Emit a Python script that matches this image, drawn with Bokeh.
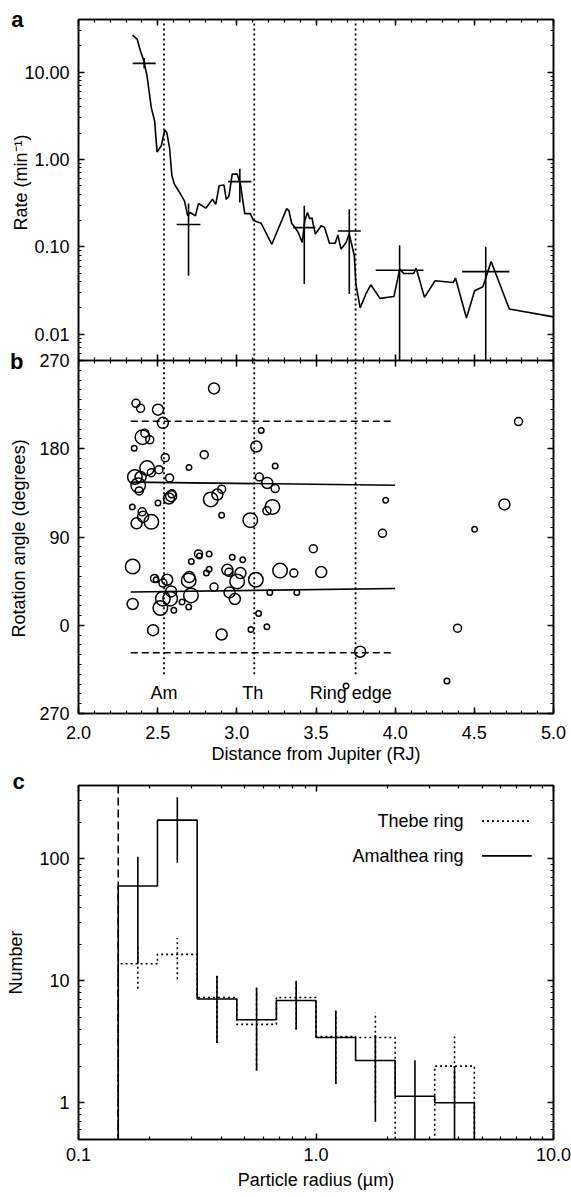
from bokeh.plotting import figure
from bokeh.layouts import column
from bokeh.models import (LinearAxis, LogAxis, FixedTicker, Span, Label, Range1d, LogScale, Title,
                          PrintfTickFormatter, CustomJSTickFormatter, ColumnDataSource)
from bokeh.embed import file_html
from bokeh.resources import INLINE
from bokeh.core.properties import value
import numpy as np

FONT = "Liberation Sans"

# ---------------- panel a data ----------------
a_dist = [2.342, 2.371, 2.388, 2.413, 2.433, 2.46, 2.481, 2.496, 2.523, 2.544, 2.558, 2.575, 2.59,
          2.606, 2.638, 2.669, 2.69, 2.704, 2.72, 2.738, 2.758, 2.804, 2.846, 2.867, 2.888, 2.919,
          2.933, 2.95, 2.971, 3.002, 3.023, 3.05, 3.085, 3.106, 3.127, 3.154, 3.221, 3.315, 3.329,
          3.346, 3.367, 3.388, 3.413, 3.429, 3.446, 3.46, 3.475, 3.48, 3.496, 3.533, 3.554, 3.585,
          3.621, 3.638, 3.658, 3.69, 3.71, 3.742, 3.752, 3.779, 3.815, 3.846, 3.904, 3.992, 4.029,
          4.054, 4.117, 4.133, 4.185, 4.252, 4.367, 4.381, 4.45, 4.502, 4.554, 4.606, 4.721, 5.0]
a_rate = [26.5, 23.7, 18.2, 13.4, 9.0, 3.9, 2.75, 1.22, 1.43, 2.17, 2.02, 1.36, 0.65,
          0.52, 0.42, 0.336, 0.226, 0.247, 0.238, 0.226, 0.313, 0.277, 0.35, 0.306, 0.50, 0.51,
          0.35, 0.38, 0.68, 0.68, 0.52, 0.24, 0.24, 0.20, 0.194, 0.186, 0.107, 0.274, 0.26,
          0.186, 0.166, 0.146, 0.112, 0.198, 0.247, 0.21, 0.214, 0.19, 0.14, 0.174, 0.167, 0.110,
          0.110, 0.137, 0.094, 0.112, 0.14, 0.079, 0.0375, 0.02, 0.0289, 0.0368, 0.0257, 0.027, 0.0556,
          0.0496, 0.0496, 0.057, 0.0264, 0.0409, 0.039, 0.0439, 0.0153, 0.0314, 0.0349, 0.068, 0.0194, 0.0158]

a_bin_lo = [2.342, 2.62, 2.946, 3.356, 3.6375, 3.877, 4.423]
a_bin_hi = [2.4875, 2.77, 3.092, 3.496, 3.783, 4.179, 4.721]
a_bin_rate = [12.6, 0.18, 0.557, 0.166, 0.152, 0.054, 0.052]
a_err_lo = [11.0, 0.0467, 0.321, 0.0375, 0.0289, 0.0, 0.0]
a_err_hi = [14.5, 0.313, 0.785, 0.296, 0.27, 0.104, 0.10]

moon_names = ["Am", "Th", "Ring edge"]
moon_dist = [2.54, 3.11, 3.75]
moon_label_dist = [2.54, 3.10, 3.72]

# ---------------- panel b data ----------------
b_dist = [2.856, 2.363, 2.392, 2.502, 2.533, 2.404, 2.419, 2.45, 2.352, 2.548, 2.794, 2.698, 2.433,
          2.508, 2.46, 2.356, 2.392, 2.377, 2.383, 2.575, 2.585, 2.571, 2.59, 2.502, 2.835, 2.877,
          2.904, 2.904, 2.34, 2.402, 2.408, 2.46, 2.367, 3.085, 3.123, 3.154, 3.142, 3.192, 3.242,
          3.242, 3.225, 3.19, 3.94, 3.92, 4.779, 4.69, 4.502, 3.483,
          2.342, 2.342, 2.471, 2.48, 2.49, 2.533, 2.56, 2.533, 2.517, 2.585, 2.579, 2.602, 2.654,
          2.696, 2.71, 2.696, 2.7, 2.7125, 2.758, 2.764, 2.825, 2.808, 2.825, 2.856, 2.94, 2.95,
          2.971, 3.0375, 3.023, 3.002, 2.954, 2.9875, 2.904, 3.12, 3.273, 3.36, 3.533, 3.208, 3.379,
          3.1375, 3.089, 3.19, 3.779, 4.394, 4.327, 3.69]
b_angle = [241.5, 226.3, 221.2, 219.9, 206.4, 191.8, 195.8, 189.1, 180.6, 170.9, 173.9, 161.0, 160.3,
           158.7, 155.6, 151.2, 151.2, 142.8, 137.0, 150.2, 131.6, 129.3, 134.0, 124.8, 128.3, 133.3,
           138.7, 112.3, 120.7, 115.7, 110.6, 105.5, 103.9, 107.2, 182.3, 198.5, 151.2, 145.1, 139.4,
           162.3, 120.7, 116.7, 127.5, 93.7, 207.7, 123.2, 97.8, 78.1,
           59.9, 21.7, -5.0, 47.7, 46.5, 43.0, 46.4, 27.1, 17.6, 34.5, 27.1, 15.2, 23.7,
           18.6, 30.4, 45.7, 49.1, 65.0, 72.7, 70.5, 72.7, 53.2, 57.2, 38.9, 56.5, 54.0,
           69.4, 66.7, 53.2, 44.7, 33.5, 26.8, -9.4, 46.4, 55.8, 53.2, 54.2, 33.5, 33.5,
           11.9, -4.4, -1.6, -27.0, -3.0, -56.8, -61.9]
b_mass_class = [3, 2, 2, 3, 3, 4, 2, 2, 1, 2, 2, 1, 4, 2, 2, 4, 3, 4, 2, 2, 3, 3, 2, 1, 4, 3, 2, 1, 1, 2,
                3, 4, 3, 4, 3, 1, 2, 3, 2, 1, 4, 2, 1, 2, 2, 3, 1, 2,
                4, 3, 3, 2, 1, 2, 3, 4, 4, 3, 4, 1, 1, 1, 4, 4, 3, 1, 2, 1, 1, 1, 1, 2, 3, 2, 1, 1,
                3, 4, 3, 3, 3, 4, 4, 2, 3, 1, 1, 1, 1, 1, 3, 2, 1, 1]

b_band_angles = [208, -28]
b_fit_dist = [2.33, 4.0]
b_fit_upper = [146.0, 142.8]
b_fit_lower = [33.9, 37.5]

# ---------------- panel c data ----------------
c_edges = [0.147, 0.215, 0.316, 0.464, 0.681, 1.0, 1.468, 2.154, 3.162, 4.642]
c_amalthea = [60, 208, 7.1, 4.8, 6.9, 3.43, 2.22, 1.13, 1.0]
c_amalthea_lo = [14, 93, 3.1, 1.84, 4.0, 1.43, 0.7, 0, 0]
c_amalthea_hi = [104, 321, 11, 8.8, 10, 5.7, 3.6, 2.23, 2.0]
c_thebe = [13.8, 16.5, 7.3, 4.4, 7.3, 3.5, 3.43, 0, 2.0]
c_thebe_lo = [8.6, 10.3, 3.1, 1.84, 4.0, 1.43, 1.0, None, 0.9]
c_thebe_hi = [20, 22.5, 11, 8.8, 10, 5.7, 5.5, None, 3.5]


def style_axis(ax, major, minor, fmt=None, labels=True, standoff=9):
    ax.ticker = FixedTicker(ticks=major, minor_ticks=minor)
    ax.major_tick_in = 6
    ax.major_tick_out = 0
    ax.minor_tick_in = 3
    ax.minor_tick_out = 0
    ax.axis_line_color = "black"
    ax.axis_line_width = 1.6
    ax.major_tick_line_color = "black"
    ax.major_tick_line_width = 1.5
    ax.minor_tick_line_color = "black"
    ax.minor_tick_line_width = 1.2
    ax.major_label_text_font = FONT
    ax.major_label_text_color = "black"
    ax.axis_label_text_font = FONT
    ax.axis_label_text_font_style = "normal"
    ax.axis_label_text_color = "black"
    ax.axis_label_text_font_size = "18px"
    if labels:
        ax.major_label_text_font_size = "18px"
        ax.major_label_standoff = standoff
        if fmt is not None:
            ax.formatter = fmt
    else:
        ax.formatter = CustomJSTickFormatter(code="return '';")
        ax.major_label_text_font_size = "1px"
        ax.major_label_standoff = 0


def log_minor(lo, hi):
    out = []
    for e in range(-4, 4):
        for k in range(2, 10):
            v = k * 10.0 ** e
            if lo <= v <= hi:
                out.append(v)
    return out


def side_title(text, offset):
    # rotated y-axis title placed in a narrow slot on the left side
    return Title(text=text, align="left", offset=offset, vertical_align="middle", standoff=-20,
                 text_font=FONT, text_font_size="18px", text_font_style="normal", text_color="black")


x_major = [2.0, 2.5, 3.0, 3.5, 4.0, 4.5, 5.0]
x_minor = [round(2.0 + 0.1 * i, 2) for i in range(31)]
DOT = "2 3"

# ================= panels a + b share one frame =================
A_YMIN, A_YMAX = 0.005, 40.0
B_YMIN, B_YMAX = -90, 270
A_FRAME_H, B_FRAME_H = 341, 353
FRAME_BOTTOM = 713
top_primary = B_YMAX + (B_YMAX - B_YMIN) * A_FRAME_H / B_FRAME_H
rate_floor = A_YMIN / 10 ** (np.log10(A_YMAX / A_YMIN) * B_FRAME_H / A_FRAME_H)
lf = float(np.log10(rate_floor))
ld = float(np.log10(A_YMAX)) - lf
span = top_primary - B_YMIN


def rate_to_primary(r):
    return B_YMIN + (np.log10(r) - lf) / ld * span


pab = figure(width=571, height=770, x_range=Range1d(2, 5), y_range=Range1d(B_YMIN, top_primary),
             extra_y_ranges={"rate": Range1d(rate_floor, A_YMAX)},
             extra_y_scales={"rate": LogScale()},
             output_backend="svg", toolbar_location=None,
             min_border_left=78, min_border_right=13, min_border_top=19, min_border_bottom=57)
pab.grid.visible = False
pab.outline_line_color = "black"
pab.outline_line_width = 1.5
pab.background_fill_color = "white"
pab.border_fill_color = "white"

b_major = [-90, 0, 90, 180, 270]
b_minor = list(range(-90, 271, 10))
a_major = [0.01, 0.1, 1.0, 10.0]
a_minor = log_minor(A_YMIN, A_YMAX)
y_ticks = b_major + [float(rate_to_primary(t)) for t in a_major]
y_minor = b_minor + [float(rate_to_primary(t)) for t in a_minor]
y_fmt = CustomJSTickFormatter(code=f"""
if (tick > {B_YMAX + 1}) {{
  const r = Math.pow(10, {lf} + (tick - ({B_YMIN})) / {span} * {ld});
  return r.toFixed(2);
}}
return tick < 0 ? '270' : tick.toFixed(0);
""")
style_axis(pab.yaxis[0], y_ticks, y_minor, fmt=y_fmt)
style_axis(pab.xaxis[0], x_major, x_minor, fmt=PrintfTickFormatter(format="%.1f"), standoff=12)
pab.xaxis[0].axis_label = "Distance from Jupiter (RJ)"
pab.xaxis[0].axis_label_standoff = 2
t_ax = LinearAxis()
style_axis(t_ax, x_major, x_minor, labels=False)
pab.add_layout(t_ax, "above")
r_ax = LinearAxis()
style_axis(r_ax, y_ticks, y_minor, labels=False)
pab.add_layout(r_ax, "right")
# boundary between panels a and b: ticks pointing into both panels
mid_dn = LinearAxis(fixed_location=B_YMAX)
style_axis(mid_dn, x_major, x_minor, labels=False)
pab.add_layout(mid_dn, "above")
mid_up = LinearAxis(fixed_location=B_YMAX)
style_axis(mid_up, x_major, x_minor, labels=False)
pab.add_layout(mid_up, "below")

# y titles (rotated) and panel letters on the left
pab.add_layout(side_title("Rate (min\u207b\u00b9)", FRAME_BOTTOM - 230), "left")
pab.add_layout(side_title("Rotation angle (degrees)", FRAME_BOTTOM - 637), "left")
letters = LinearAxis(bounds=(260, top_primary))
letters.ticker = FixedTicker(ticks=[268.5, top_primary], minor_ticks=[])
letters.formatter = CustomJSTickFormatter(code="return tick > 400 ? 'a' : 'b';")
letters.axis_line_color = None
letters.major_tick_line_color = None
letters.minor_tick_line_color = None
letters.major_tick_in = 0
letters.major_tick_out = 0
letters.major_label_standoff = -6
letters.major_label_text_font = FONT
letters.major_label_text_font_size = "22px"
letters.major_label_text_font_style = "bold"
letters.major_label_text_color = "black"
pab.add_layout(letters, "left")

# --- panel a content ---
pab.segment(x0=moon_dist, y0=[A_YMIN] * 3, x1=moon_dist, y1=[A_YMAX] * 3, y_range_name="rate",
            line_color="black", line_dash=DOT, line_width=1.8)
pab.line(a_dist, a_rate, y_range_name="rate", line_color="black", line_width=1.6)
a_mid = [(lo + hi) / 2 for lo, hi in zip(a_bin_lo, a_bin_hi)]
pab.segment(x0=a_bin_lo, y0=a_bin_rate, x1=a_bin_hi, y1=a_bin_rate, y_range_name="rate",
            line_color="black", line_width=1.6)
pab.segment(x0=a_mid, y0=[max(v, A_YMIN) for v in a_err_lo], x1=a_mid, y1=a_err_hi,
            y_range_name="rate", line_color="black", line_width=1.6)

# --- panel b content ---
pab.segment(x0=moon_dist, y0=[-50] * 3, x1=moon_dist, y1=[B_YMAX] * 3, line_color="black",
            line_dash=DOT, line_width=1.8)
pab.segment(x0=[b_fit_dist[0]] * 2, y0=b_band_angles, x1=[3.98] * 2, y1=b_band_angles,
            line_color="black", line_dash="7 4", line_width=1.6)
pab.line(b_fit_dist, b_fit_upper, line_color="black", line_width=1.6)
pab.line(b_fit_dist, b_fit_lower, line_color="black", line_width=1.6)
size_map = {1: 5.5, 2: 8, 3: 11, 4: 14.5}
bsrc = ColumnDataSource(dict(x=b_dist, y=b_angle, s=[size_map[c] for c in b_mass_class]))
pab.scatter("x", "y", size="s", source=bsrc, marker="circle", fill_color=None,
            line_color="black", line_width=1.5)
pab.text(x=moon_label_dist, y=[-69] * 3, text=moon_names, text_font=value(FONT),
         text_font_size="18px", text_align="center", text_baseline="middle", text_color="black")

# ================= panel c =================
pc = figure(width=571, height=427, x_range=Range1d(0.1, 10), y_range=Range1d(0.5, 400),
            x_axis_type="log", y_axis_type="log", output_backend="svg", toolbar_location=None,
            min_border_left=78, min_border_right=18, min_border_top=15, min_border_bottom=58)
pc.grid.visible = False
pc.outline_line_color = "black"
pc.outline_line_width = 1.5
pc.background_fill_color = "white"
pc.border_fill_color = "white"
cx_major = [0.1, 1.0, 10.0]
cx_minor = log_minor(0.1, 10)
cy_major = [1, 10, 100]
cy_minor = log_minor(0.5, 400)
style_axis(pc.xaxis[0], cx_major, cx_minor, fmt=PrintfTickFormatter(format="%.1f"), standoff=8)
pc.xaxis[0].axis_label = "Particle radius (\u00b5m)"
pc.xaxis[0].axis_label_standoff = 6
style_axis(pc.yaxis[0], cy_major, cy_minor, fmt=PrintfTickFormatter(format="%d"))
pc.yaxis[0].axis_label = "Number"
pc.yaxis[0].axis_label_standoff = 10
cx_top = LogAxis()
style_axis(cx_top, cx_major, cx_minor, labels=False)
pc.add_layout(cx_top, "above")
cy_right = LogAxis()
style_axis(cy_right, cy_major, cy_minor, labels=False)
pc.add_layout(cy_right, "right")
pc.add_layout(Title(text="c", align="left", offset=-66, vertical_align="bottom", standoff=-16,
                    text_font=FONT, text_font_size="22px", text_font_style="bold",
                    text_color="black"), "above")

FLOOR = 0.05


def step_path(edges, vals):
    xs = [edges[0]]
    ys = [FLOOR]
    for i, v in enumerate(vals):
        vv = v if v > 0 else FLOOR
        xs += [edges[i], edges[i + 1]]
        ys += [vv, vv]
    xs.append(edges[-1])
    ys.append(FLOOR)
    return xs, ys


c_mid = [float(np.sqrt(c_edges[i] * c_edges[i + 1])) for i in range(len(c_edges) - 1)]

pc.add_layout(Span(location=c_edges[0], dimension="height", line_color="black",
                   line_dash="8 4", line_width=1.6))
tx, ty = step_path(c_edges, c_thebe)
pc.line(tx, ty, line_color="black", line_width=1.6, line_dash=DOT)
tm = [i for i in range(len(c_mid)) if c_thebe_lo[i] is not None]
pc.segment(x0=[c_mid[i] for i in tm], y0=[c_thebe_lo[i] for i in tm],
           x1=[c_mid[i] for i in tm], y1=[c_thebe_hi[i] for i in tm],
           line_color="black", line_width=1.6, line_dash=DOT)
sx, sy = step_path(c_edges, c_amalthea)
pc.line(sx, sy, line_color="black", line_width=1.6)
pc.segment(x0=c_mid, y0=[v if v > 0 else FLOOR for v in c_amalthea_lo], x1=c_mid, y1=c_amalthea_hi,
           line_color="black", line_width=1.6)

# legend (text then line sample, as in the original)
pc.add_layout(Label(x=4.18, y=204, text="Thebe ring", text_font=FONT, text_font_size="18px",
                    text_align="right", text_baseline="middle", text_color="black"))
pc.add_layout(Label(x=4.18, y=106, text="Amalthea ring", text_font=FONT, text_font_size="18px",
                    text_align="right", text_baseline="middle", text_color="black"))
pc.line([5.0, 8.1], [204, 204], line_color="black", line_width=1.6, line_dash=DOT)
pc.line([5.0, 8.1], [106, 106], line_color="black", line_width=1.6)

layout = column(pab, pc, spacing=0)
open("out.html", "w").write(file_html(layout, INLINE))
